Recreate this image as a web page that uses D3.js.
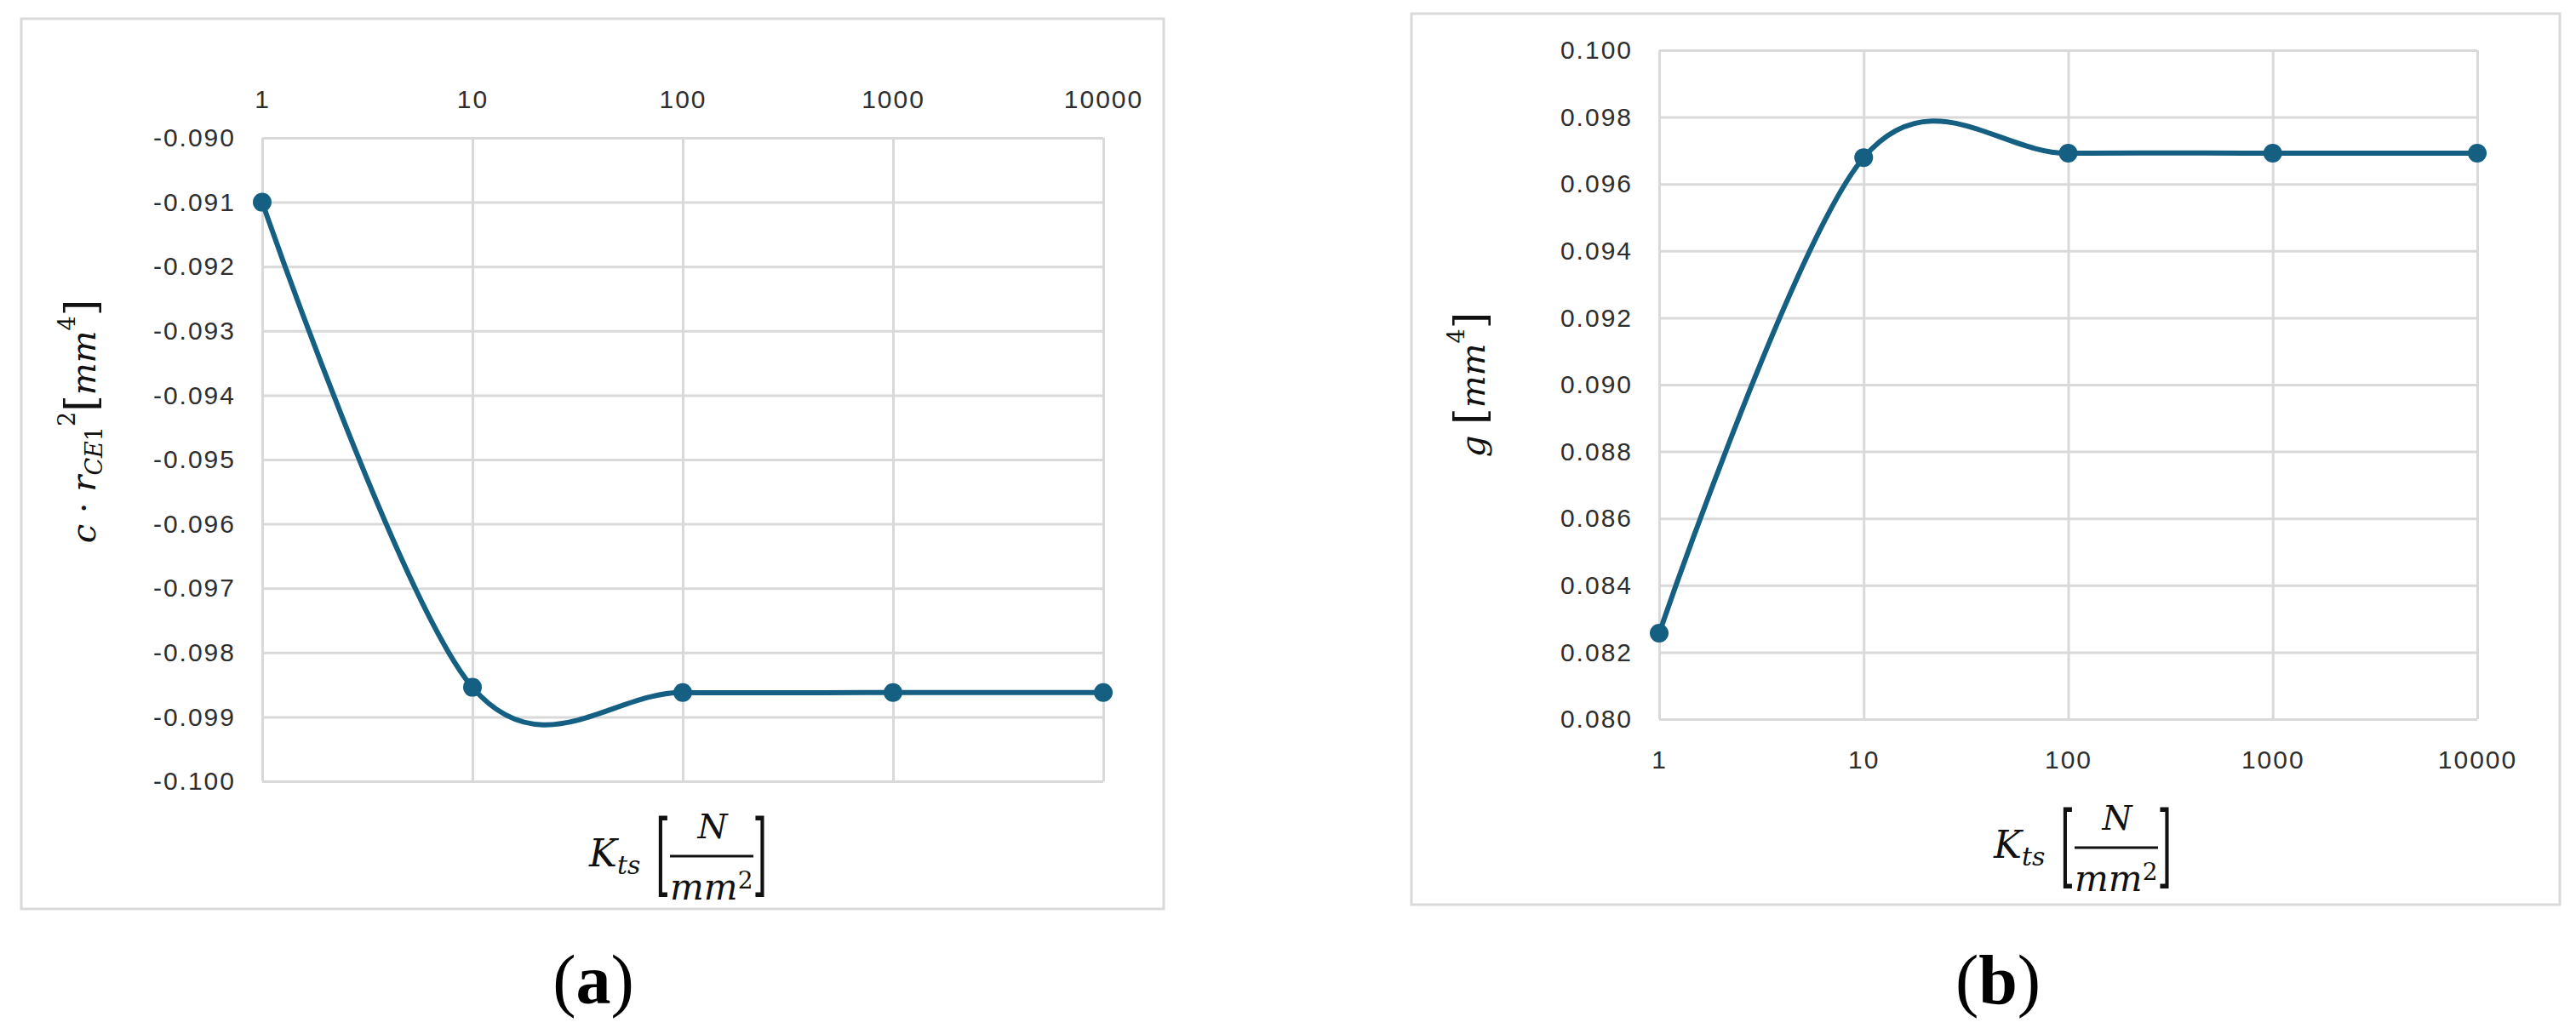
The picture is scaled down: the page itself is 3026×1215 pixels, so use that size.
<!DOCTYPE html>
<html>
<head>
<meta charset="utf-8">
<script src="https://cdn.jsdelivr.net/npm/d3@7"></script>
<style>
  body { margin: 0; background: #fff; }
  svg { display: block; }
  .tick text { font-family: "Liberation Sans", Arial, sans-serif; font-size: 30px; fill: #2e2e2e; letter-spacing: 2px; }
  .math { font-family: "DejaVu Serif", serif; fill: #111; }
  .cap { font-family: "Liberation Serif", "Times New Roman", serif; fill: #000; }
</style>
</head>
<body>
<svg width="3026" height="1215"></svg>
<script>
// data
const kts = [1, 10, 100, 1000, 10000];
const crValues = [-0.0910, -0.09854, -0.09862, -0.09862, -0.09862];
const gValues = [0.08257, 0.09679, 0.09692, 0.09692, 0.09692];
const yTicksA = [-0.100, -0.099, -0.098, -0.097, -0.096, -0.095, -0.094, -0.093, -0.092, -0.091, -0.090];
const yTicksB = [0.080, 0.082, 0.084, 0.086, 0.088, 0.090, 0.092, 0.094, 0.096, 0.098, 0.100];

const svg = d3.select("svg");
const lineColor = "#156082";
const gridColor = "#d9d9d9";

function drawPanel(p) {
  const g = svg.append("g");

  g.append("rect")
    .attr("x", p.frame[0]).attr("y", p.frame[1])
    .attr("width", p.frame[2] - p.frame[0])
    .attr("height", p.frame[3] - p.frame[1])
    .attr("fill", "#fff")
    .attr("stroke", gridColor)
    .attr("stroke-width", 3);

  const x = d3.scaleLog().domain([1, 10000]).range([p.left, p.right]);
  const y = d3.scaleLinear().domain(d3.extent(p.yTicks)).range([p.bottom, p.top]);

  g.append("g")
    .attr("class", "axis")
    .attr("transform", `translate(${p.left},0)`)
    .call(d3.axisLeft(y)
      .tickValues(p.yTicks)
      .tickFormat(d => d.toFixed(3))
      .tickSize(-(p.right - p.left))
      .tickPadding(31));

  const xAxis = p.xTop ? d3.axisTop(x) : d3.axisBottom(x);
  g.append("g")
    .attr("class", "axis")
    .attr("transform", `translate(0,${p.xTop ? p.top : p.bottom})`)
    .call(xAxis
      .tickValues(kts)
      .tickFormat(d3.format("d"))
      .tickSize(-(p.bottom - p.top))
      .tickPadding(p.xPad));

  g.selectAll(".axis .domain").remove();
  g.selectAll(".axis line").attr("stroke", gridColor).attr("stroke-width", 3);

  const pts = kts.map((k, i) => [k, p.values[i]]);
  const line = d3.line()
    .x(d => x(d[0]))
    .y(d => y(d[1]))
    .curve(d3.curveCatmullRom.alpha(0));

  g.append("path")
    .datum(pts)
    .attr("d", line)
    .attr("fill", "none")
    .attr("stroke", lineColor)
    .attr("stroke-width", 6)
    .attr("stroke-linecap", "round");

  g.selectAll("circle.pt")
    .data(pts)
    .enter()
    .append("circle")
    .attr("class", "pt")
    .attr("cx", d => x(d[0]))
    .attr("cy", d => y(d[1]))
    .attr("r", 11)
    .attr("fill", lineColor);

  return g;
}

// K_ts [N / mm^2]
function xLabel(g, x0, y0) {
  const t = g.append("text").attr("class", "math").attr("x", x0).attr("y", y0);
  t.append("tspan").attr("font-style", "italic").attr("font-size", 44).text("K");
  t.append("tspan").attr("font-style", "italic").attr("font-size", 30).attr("dy", 9).text("ts");

  const br = (txt, bx) => g.append("text").attr("class", "math")
    .attr("transform", `translate(${bx},${y0 + 22}) scale(0.42,1)`)
    .attr("font-size", 106).text(txt);
  br("[", x0 + 78);
  br("]", x0 + 192);

  g.append("text").attr("class", "math")
    .attr("x", x0 + 145).attr("y", y0 - 33)
    .attr("text-anchor", "middle")
    .attr("font-style", "italic").attr("font-size", 40).text("N");
  g.append("line")
    .attr("x1", x0 + 95).attr("x2", x0 + 193)
    .attr("y1", y0 - 12).attr("y2", y0 - 12)
    .attr("stroke", "#111").attr("stroke-width", 3);
  const d = g.append("text").attr("class", "math").attr("x", x0 + 95).attr("y", y0 + 39);
  d.append("tspan").attr("font-style", "italic").attr("font-size", 42).text("mm");
  d.append("tspan").attr("font-size", 28).attr("dy", -13).text("2");
}

function caption(g, cx, cy, letter) {
  const t = g.append("text").attr("class", "cap")
    .attr("x", cx).attr("y", cy)
    .attr("text-anchor", "middle")
    .attr("font-size", 82);
  t.append("tspan").text("(");
  t.append("tspan").attr("font-weight", "bold").text(letter);
  t.append("tspan").text(")");
}

// panel (a)
const gA = drawPanel({
  frame: [25, 22, 1367, 1068],
  left: 308, right: 1296, top: 162, bottom: 918,
  yTicks: yTicksA, values: crValues, xTop: true, xPad: 35
});
const labA = gA.append("text").attr("class", "math")
  .attr("transform", "translate(112,495) rotate(-90)")
  .attr("text-anchor", "middle");
labA.append("tspan").attr("font-style", "italic").attr("font-size", 40).text("c");
labA.append("tspan").attr("font-size", 40).text(" · ");
labA.append("tspan").attr("font-style", "italic").attr("font-size", 40).text("r");
labA.append("tspan").attr("font-style", "italic").attr("font-size", 27).attr("dy", 8).text("CE");
labA.append("tspan").attr("font-size", 27).text("1");
labA.append("tspan").attr("font-size", 27).attr("dy", -32).text("2");
labA.append("tspan").attr("font-size", 50).attr("dy", 24).text("[");
labA.append("tspan").attr("font-style", "italic").attr("font-size", 40).text("mm");
labA.append("tspan").attr("font-size", 27).attr("dy", -24).text("4");
labA.append("tspan").attr("font-size", 50).attr("dy", 24).text("]");
xLabel(gA, 692, 1018);
caption(gA, 697, 1179, "a");

// panel (b)
const gB = drawPanel({
  frame: [1658, 16, 3007, 1063],
  left: 1949, right: 2910, top: 59, bottom: 845,
  yTicks: yTicksB, values: gValues, xTop: false, xPad: 37
});
const labB = gB.append("text").attr("class", "math")
  .attr("transform", "translate(1744,452) rotate(-90)")
  .attr("text-anchor", "middle");
labB.append("tspan").attr("font-style", "italic").attr("font-size", 40).text("g ");
labB.append("tspan").attr("font-size", 50).text("[");
labB.append("tspan").attr("font-style", "italic").attr("font-size", 40).text("mm");
labB.append("tspan").attr("font-size", 27).attr("dy", -24).text("4");
labB.append("tspan").attr("font-size", 50).attr("dy", 24).text("]");
xLabel(gB, 2342, 1008);
caption(gB, 2347, 1179, "b");
</script>
</body>
</html>
